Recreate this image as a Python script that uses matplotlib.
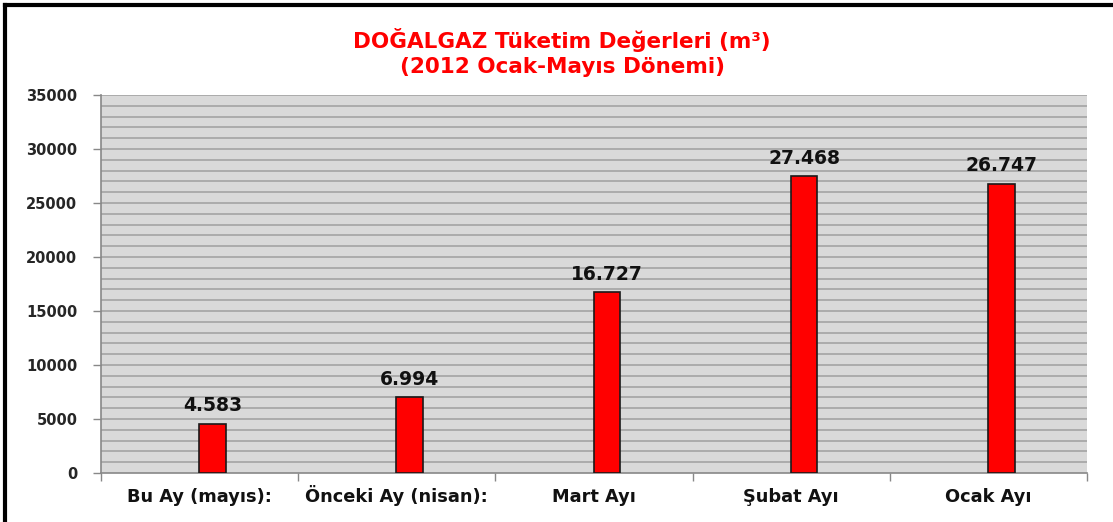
import matplotlib
matplotlib.use("Agg")
import matplotlib.pyplot as plt
from matplotlib.lines import Line2D
import matplotlib.transforms as mtransforms
import numpy as np

categories = ["Bu Ay (mayıs):", "Önceki Ay (nisan):", "Mart Ayı", "Şubat Ayı", "Ocak Ayı"]
values = [4583, 6994, 16727, 27468, 26747]
value_labels = ["4.583", "6.994", "16.727", "27.468", "26.747"]
yticks = [0, 5000, 10000, 15000, 20000, 25000, 30000, 35000]

plt.rcParams['font.family'] = ['DejaVu Sans']

fig = plt.figure(figsize=(11.13, 5.22), dpi=100)
ax = fig.add_axes([101/1113, 49/522, 986/1113, 378/522])
ax.set_facecolor("#d9d9d9")

x = np.arange(len(categories))
bar_offset = 0.065
ax.bar(x + bar_offset, values, width=0.135, color="#ff0000", edgecolor="#1a1a1a", linewidth=1.2, zorder=3)
ax.set_xlim(-0.5, len(categories) - 0.5)
ax.set_ylim(0, 35000)

for yv in range(1000, 35001, 1000):
    ax.axhline(yv, color="#ababab", linewidth=1.4, zorder=1)

ax.set_yticks(yticks)
ax.set_yticklabels([str(v) for v in yticks], fontsize=10.5, fontweight="bold", color="#262626")
ax.set_xticks([])
ax.tick_params(axis="y", length=6, color="#888888", width=1, pad=11)
ax.set_xticks(np.arange(-0.5, len(categories)), minor=True)
ax.tick_params(axis="x", which="minor", length=6, color="#888888", width=1)

trans = mtransforms.blended_transform_factory(ax.transData, fig.transFigure)
for xi, cat in zip(x, categories):
    ax.text(xi, 1 - 502/522, cat, transform=trans, ha="center", va="baseline",
            fontsize=12.8, fontweight="bold", color="#111111")

for s in ["top", "right"]:
    ax.spines[s].set_visible(False)
for s in ["left", "bottom"]:
    ax.spines[s].set_color("#888888")
    ax.spines[s].set_linewidth(1.2)

for xi, v, lab in zip(x, values, value_labels):
    ax.text(xi + bar_offset, v + 800, lab, ha="center", va="bottom", fontsize=13.5, fontweight="bold", color="#111111")

fig.text(562/1113, 1 - 40/522, "DOĞALGAZ Tüketim Değerleri (m³)", ha="center", va="center",
         fontsize=15.5, fontweight="bold", color="#ff0000")
fig.text(562/1113, 1 - 67/522, "(2012 Ocak-Mayıs Dönemi)", ha="center", va="center",
         fontsize=15.5, fontweight="bold", color="#ff0000")

# outer chart frame (top and left)
fig.add_artist(Line2D([5/1113, 1.0], [1 - 5/522, 1 - 5/522], transform=fig.transFigure, color="black", linewidth=3))
fig.add_artist(Line2D([5/1113, 5/1113], [0, 1 - 5/522], transform=fig.transFigure, color="black", linewidth=3))

fig.savefig("out.png", dpi=100)
